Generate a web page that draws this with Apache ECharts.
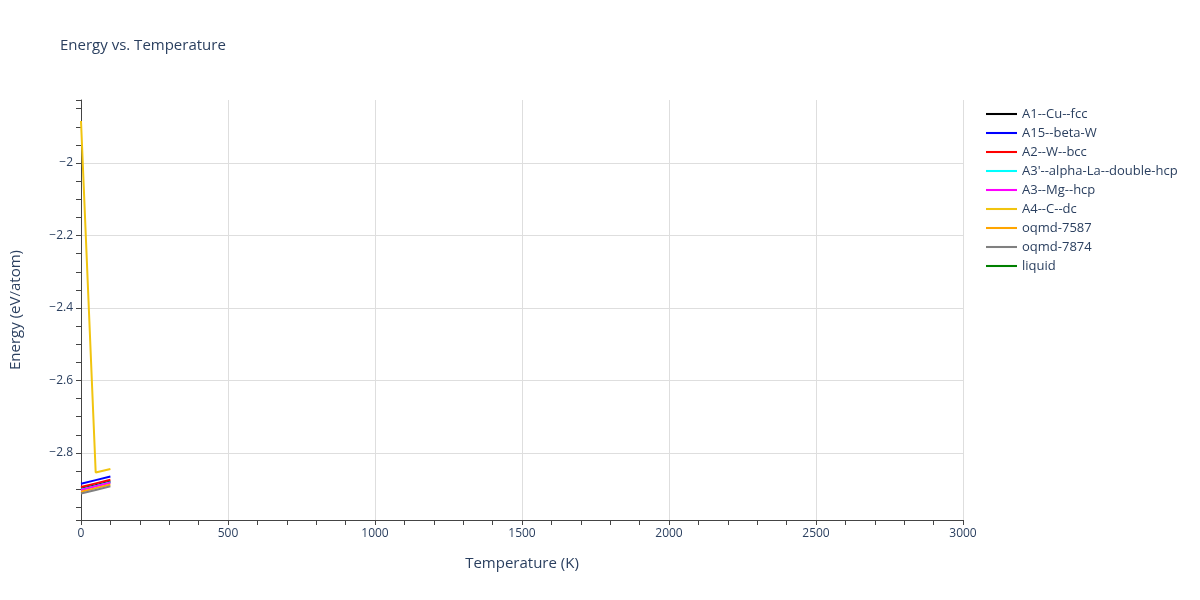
<!DOCTYPE html>
<html>
<head>
<meta charset="utf-8">
<script src="https://cdn.jsdelivr.net/npm/echarts@6/dist/echarts.min.js"></script>
<style>html,body{margin:0;padding:0;background:#fff}#c{width:1200px;height:600px}</style>
</head>
<body>
<div id="c"></div>
<script>
const temperatures = [0, 50, 100];
const seriesNames = ['A1--Cu--fcc','A15--beta-W','A2--W--bcc',"A3'--alpha-La--double-hcp",'A3--Mg--hcp','A4--C--dc','oqmd-7587','oqmd-7874','liquid'];
const seriesColors = ['#000000','#0000ff','#ff0000','#00ffff','#ff00ff','#f1c40f','#ffa500','#808080','#008000'];
const energyA1 = [-2.899, -2.889, -2.879];
const energyA15 = [-2.885, -2.875, -2.865];
const energyA2 = [-2.894, -2.884, -2.874];
const energyA3p = [-2.901, -2.891, -2.881];
const energyA3 = [-2.902, -2.892, -2.882];
const energyA4 = [-1.884, -2.854, -2.844];
const energyOqmd7587 = [-2.907, -2.897, -2.887];
const energyOqmd7874 = [-2.912, -2.902, -2.892];
const energyLiquid = [];
const yTicks = [-2.8, -2.6, -2.4, -2.2, -2];
const xTicks = [0, 500, 1000, 1500, 2000, 2500, 3000];

const allEnergies = [energyA1, energyA15, energyA2, energyA3p, energyA3, energyA4, energyOqmd7587, energyOqmd7874, energyLiquid];
const fontFam = '"Open Sans", "Noto Sans", sans-serif';
const txt = '#2a3f5f';
const fmt = v => String(Math.round(v * 1000) / 1000).replace('-', '\u2212');

const series = seriesNames.map((name, i) => ({
  name, type: 'line', symbol: 'none', showSymbol: false,
  data: allEnergies[i].map((e, j) => [temperatures[j], e]),
  lineStyle: { color: seriesColors[i], width: 2 },
  itemStyle: { color: seriesColors[i] },
  z: 3
}));

const chart = echarts.init(document.getElementById('c'));
chart.setOption({
  backgroundColor: '#fff',
  animation: false,
  title: { text: 'Energy vs. Temperature', left: 55, top: 33, textStyle: { fontFamily: fontFam, fontSize: 15, fontWeight: 'normal', color: txt } },
  grid: { left: 79, right: 237, top: 100, bottom: 80, containLabel: false },
  legend: {
    orient: 'vertical', left: 981, top: 102, itemWidth: 31, itemHeight: 14, itemGap: 5,
    icon: 'path://M0,6 L30,6 L30,8 L0,8 Z',
    textStyle: { fontFamily: fontFam, fontSize: 13, color: txt, lineHeight: 14 },
    data: seriesNames
  },
  xAxis: {
    type: 'value', min: xTicks[0], max: xTicks[xTicks.length - 1], interval: 500,
    name: 'Temperature (K)', nameLocation: 'middle', nameGap: 36,
    nameTextStyle: { fontFamily: fontFam, fontSize: 15, color: txt },
    axisLine: { show: true, onZero: false, lineStyle: { color: '#444', width: 1 } },
    axisTick: { show: true, length: 5, lineStyle: { color: '#444' } },
    minorTick: { show: true, splitNumber: 5, length: 5, lineStyle: { color: '#444' } },
    axisLabel: { fontFamily: fontFam, fontSize: 12, color: txt, margin: 8, formatter: fmt },
    splitLine: { show: true, showMinLine: false, lineStyle: { color: '#dedede', width: 1 } }
  },
  yAxis: {
    type: 'value', min: -2.985, max: -1.826, splitNumber: 5,
    name: 'Energy (eV/atom)', nameLocation: 'middle', nameGap: 58,
    nameTextStyle: { fontFamily: fontFam, fontSize: 15, color: txt },
    axisLine: { show: true, onZero: false, lineStyle: { color: '#444', width: 1 } },
    axisTick: { show: true, length: 5, lineStyle: { color: '#444' } },
    minorTick: { show: true, splitNumber: 4, length: 5, lineStyle: { color: '#444' } },
    axisLabel: { fontFamily: fontFam, fontSize: 12, color: txt, margin: 8, formatter: fmt, showMinLabel: false, showMaxLabel: false },
    splitLine: { show: true, showMinLine: false, showMaxLine: false, lineStyle: { color: '#dedede', width: 1 } }
  },
  series
});
</script>
</body>
</html>
